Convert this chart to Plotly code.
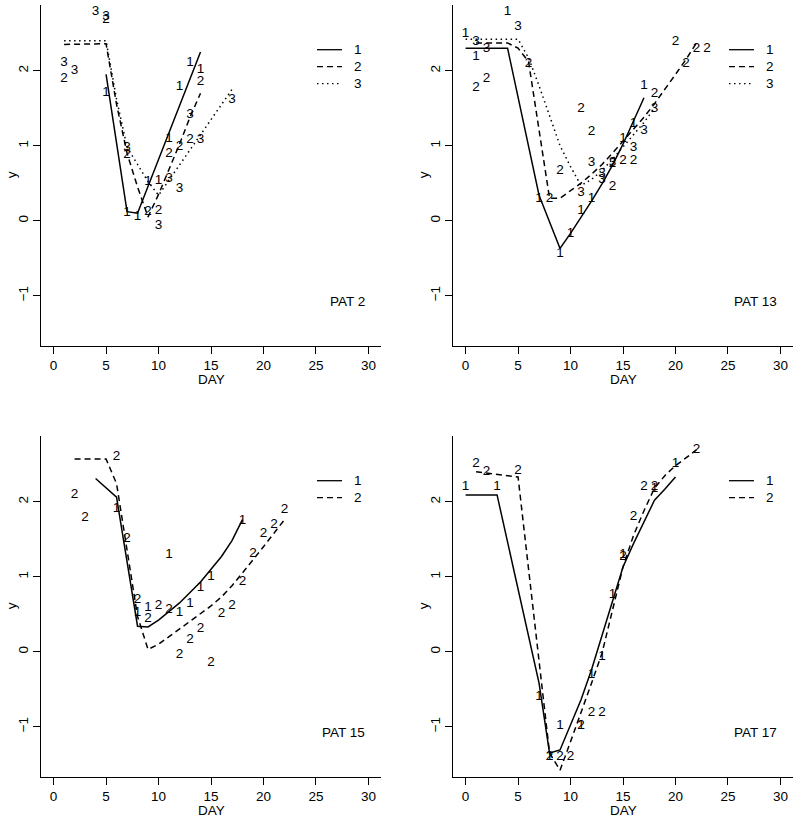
import plotly.graph_objects as go

FONT = "Liberation Sans, Arial, Helvetica, sans-serif"
FS = 13.5

# ---- PAT 2 ----
pat2_fit_day = {
    1: [5, 7, 8, 9, 10, 11, 12, 13, 14],
    2: [1, 2, 3, 4, 5, 6, 7, 8, 9, 10, 11, 12, 13, 14],
    3: [1, 2, 3, 4, 5, 6, 7, 8, 9, 10, 11, 12, 13, 14, 15, 16, 17],
}
pat2_fit_y = {
    1: [1.95, 0.12, 0.10, 0.46, 0.82, 1.18, 1.54, 1.90, 2.25],
    2: [2.35, 2.35, 2.35, 2.35, 2.36, 1.55, 0.90, 0.45, 0.05, 0.35, 0.68, 1.02, 1.38, 1.70],
    3: [2.40, 2.40, 2.40, 2.40, 2.40, 1.62, 0.98, 0.75, 0.52, 0.34, 0.54, 0.74, 0.94, 1.14, 1.34, 1.54, 1.75],
}
pat2_pt_day = [5, 7, 8, 9, 10, 11, 12, 13, 14,
               1, 5, 7, 9, 10, 11, 12, 13, 14,
               1, 2, 4, 5, 7, 10, 11, 12, 13, 14, 17]
pat2_pt_y = [1.71, 0.11, 0.05, 0.52, 0.54, 1.10, 1.79, 2.11, 2.02,
             1.89, 2.68, 0.88, 0.12, 0.13, 0.90, 0.99, 1.08, 1.86,
             2.11, 2.00, 2.79, 2.72, 0.97, -0.06, 0.56, 0.43, 1.41, 1.08, 1.62]
pat2_pt_grp = [1] * 9 + [2] * 9 + [3] * 11

# ---- PAT 13 ----
pat13_fit_day = {
    1: [0, 1, 2, 3, 4, 7, 9, 10, 11, 12, 13, 14, 15, 16, 17],
    2: [1, 2, 3, 4, 5, 6, 8, 9, 10, 11, 12, 13, 14, 15, 16, 17, 18, 19, 20, 21, 22],
    3: [0, 1, 2, 3, 4, 5, 6, 7, 8, 9, 10, 11, 12, 13, 14, 15, 16, 17, 18],
}
pat13_fit_y = {
    1: [2.30, 2.30, 2.30, 2.30, 2.30, 0.34, -0.37, -0.17, 0.04, 0.26, 0.49, 0.74, 1.02, 1.32, 1.64],
    2: [2.37, 2.37, 2.37, 2.37, 2.30, 2.12, 0.30, 0.30, 0.40, 0.50, 0.62, 0.75, 0.90, 1.06, 1.22,
        1.38, 1.56, 1.75, 1.95, 2.15, 2.37],
    3: [2.42, 2.42, 2.42, 2.42, 2.42, 2.42, 2.17, 1.80, 1.40, 1.00, 0.72, 0.47, 0.55, 0.67, 0.82,
        0.98, 1.14, 1.31, 1.50],
}
pat13_pt_day = [0, 1, 4, 7, 9, 10, 11, 12, 15, 16, 17,
                1, 2, 6, 8, 9, 11, 12, 14, 14, 15, 16, 18, 20, 21, 22, 23,
                1, 2, 5, 11, 12, 13, 13, 14, 16, 17, 18]
pat13_pt_y = [2.50, 2.19, 2.79, 0.30, -0.44, -0.17, 0.14, 0.30, 1.10, 1.30, 1.80,
              1.78, 1.90, 2.10, 0.30, 0.67, 1.49, 1.19, 0.45, 0.76, 0.80, 0.80, 1.70, 2.39, 2.09, 2.29, 2.29,
              2.39, 2.29, 2.59, 0.37, 0.78, 0.63, 0.55, 0.77, 0.97, 1.20, 1.50]
pat13_pt_grp = [1] * 11 + [2] * 16 + [3] * 11

# ---- PAT 15 ----
pat15_fit_day = {
    1: [4, 6, 8, 9, 10, 11, 12, 13, 14, 15, 16, 17, 18],
    2: [2, 3, 4, 5, 6, 7, 8, 9, 10, 11, 12, 13, 14, 15, 16, 17, 18, 19, 20, 21, 22],
}
pat15_fit_y = {
    1: [2.31, 2.06, 0.34, 0.33, 0.42, 0.53, 0.65, 0.79, 0.93, 1.10, 1.27, 1.48, 1.76],
    2: [2.57, 2.57, 2.57, 2.57, 2.24, 1.36, 0.47, 0.03, 0.10, 0.20, 0.30, 0.40, 0.51, 0.61,
        0.73, 0.88, 1.05, 1.22, 1.40, 1.58, 1.76],
}
pat15_pt_day = [6, 8, 9, 11, 12, 13, 14, 15, 18,
                2, 3, 6, 7, 8, 9, 10, 11, 12, 13, 14, 15, 16, 17, 18, 19, 20, 21, 22]
pat15_pt_y = [1.91, 0.52, 0.59, 1.29, 0.52, 0.64, 0.85, 1.00, 1.75,
              2.09, 1.79, 2.60, 1.51, 0.69, 0.44, 0.62, 0.56, -0.04, 0.16, 0.31, -0.15, 0.51,
              0.62, 0.93, 1.31, 1.58, 1.69, 1.90]
pat15_pt_grp = [1] * 9 + [2] * 19

# ---- PAT 17 ----
pat17_fit_day = {
    1: [0, 1, 2, 3, 7, 8, 9, 10, 11, 12, 13, 14, 15, 16, 17, 18, 19, 20],
    2: [1, 2, 3, 4, 5, 8, 9, 10, 11, 12, 13, 14, 15, 16, 17, 18, 19, 20, 21, 22],
}
pat17_fit_y = {
    1: [2.09, 2.09, 2.09, 2.09, -0.42, -1.35, -1.31, -0.98, -0.64, -0.24, 0.22, 0.67, 1.13,
        1.44, 1.73, 2.02, 2.17, 2.33],
    2: [2.40, 2.38, 2.36, 2.35, 2.33, -1.35, -1.58, -1.20, -0.82, -0.42, -0.02, 0.55, 1.13,
        1.55, 1.88, 2.18, 2.35, 2.48, 2.58, 2.69],
}
pat17_pt_day = [0, 3, 7, 8, 9, 11, 12, 13, 14, 15, 18, 20,
                1, 2, 5, 8, 9, 10, 11, 12, 13, 15, 16, 17, 18, 22]
pat17_pt_y = [2.20, 2.20, -0.60, -1.40, -0.98, -0.98, -0.30, -0.07, 0.76, 1.29, 2.18, 2.51,
              2.51, 2.40, 2.42, -1.40, -1.40, -1.40, -0.98, -0.81, -0.81, 1.27, 1.80, 2.20, 2.20, 2.69]
pat17_pt_grp = [1] * 12 + [2] * 14

x_ticks = [0, 5, 10, 15, 20, 25, 30]
y_ticks = [-1, 0, 1, 2]
dashes = {1: "solid", 2: "6px,4px", 3: "1.5px,3.5px"}

W, H = 800, 821
col_px = [(41, 381), (453, 793)]
row_px = [(4.7, 345.7), (435.7, 776.7)]

panels = [
    ("PAT 2", 0, 0, pat2_fit_day, pat2_fit_y, pat2_pt_day, pat2_pt_y, pat2_pt_grp),
    ("PAT 13", 0, 1, pat13_fit_day, pat13_fit_y, pat13_pt_day, pat13_pt_y, pat13_pt_grp),
    ("PAT 15", 1, 0, pat15_fit_day, pat15_fit_y, pat15_pt_day, pat15_pt_y, pat15_pt_grp),
    ("PAT 17", 1, 1, pat17_fit_day, pat17_fit_y, pat17_pt_day, pat17_pt_y, pat17_pt_grp),
]

fig = go.Figure()
layout = {}
shapes = []
annots = []

for i, (name, r, c, fday, fy, pday, py, pgrp) in enumerate(panels):
    n = i + 1
    xs = "x" if n == 1 else f"x{n}"
    ys = "y" if n == 1 else f"y{n}"
    l, rr = col_px[c]
    t, b = row_px[r]
    axis_common = dict(showline=True, linecolor="black", linewidth=1, ticks="outside",
                       ticklen=7, tickwidth=1, tickcolor="black", showgrid=False,
                       zeroline=False, tickfont=dict(family=FONT, size=FS, color="black"))
    layout[f"xaxis{'' if n == 1 else n}"] = dict(
        domain=[l / W, rr / W], range=[-1.2, 31.2], tickvals=x_ticks, anchor=ys, **axis_common)
    layout[f"yaxis{'' if n == 1 else n}"] = dict(
        domain=[1 - b / H, 1 - t / H], range=[-1.667, 2.88], tickvals=y_ticks,
        tickangle=-90, anchor=xs, **axis_common)

    for g in fday:
        fig.add_trace(go.Scatter(
            x=fday[g], y=fy[g], mode="lines", xaxis=xs, yaxis=ys,
            line=dict(color="black", width=1.5, dash=dashes[g]),
            showlegend=False, hoverinfo="skip"))
    fig.add_trace(go.Scatter(
        x=pday, y=py, text=[str(g) for g in pgrp], mode="text", textposition="middle center",
        textfont=dict(family=FONT, size=FS, color="black"), xaxis=xs, yaxis=ys,
        cliponaxis=False, showlegend=False, hoverinfo="skip"))

    # legend (lines + labels) in the top right of each panel
    xd = f"{xs} domain"
    yd = f"{ys} domain"
    ph = b - t
    pw = rr - l
    for k, g in enumerate(sorted(fday)):
        yy = 1 - (45 + 17 * k) / ph
        shapes.append(dict(type="line", xref=xd, yref=yd, x0=276 / pw, x1=301 / pw,
                           y0=yy, y1=yy, line=dict(color="black", width=1.3, dash=dashes[g])))
        annots.append(dict(xref=xd, yref=yd, x=317 / pw, y=yy, text=str(g), showarrow=False,
                           xanchor="center", yanchor="middle",
                           font=dict(family=FONT, size=FS, color="black")))
    annots.append(dict(xref=xd, yref=yd, x=325.7 / pw, y=1 - 297 / ph, text=name,
                       showarrow=False, xanchor="right", yanchor="middle",
                       font=dict(family=FONT, size=FS, color="black")))
    # axis titles
    annots.append(dict(xref=xd, yref="paper", x=0.5, y=1 - (b + 33.5) / H, text="DAY",
                       showarrow=False, xanchor="center", yanchor="middle",
                       font=dict(family=FONT, size=FS, color="black")))
    annots.append(dict(xref="paper", yref=yd, x=(l - 30) / W, y=0.5, text="y",
                       textangle=-90, showarrow=False, xanchor="center", yanchor="middle",
                       font=dict(family=FONT, size=FS, color="black")))

fig.update_layout(
    width=W, height=H,
    margin=dict(l=0, r=0, t=0, b=0),
    paper_bgcolor="white", plot_bgcolor="white",
    shapes=shapes, annotations=annots,
    font=dict(family=FONT, size=FS, color="black"),
    **layout,
)

# the page body has a default 8px margin; drop it so the figure sits at the window corner
fig.write_html("out.html", config={"displayModeBar": False},
               post_script="document.body.style.margin='0';"
                           "document.body.style.overflow='hidden';")
